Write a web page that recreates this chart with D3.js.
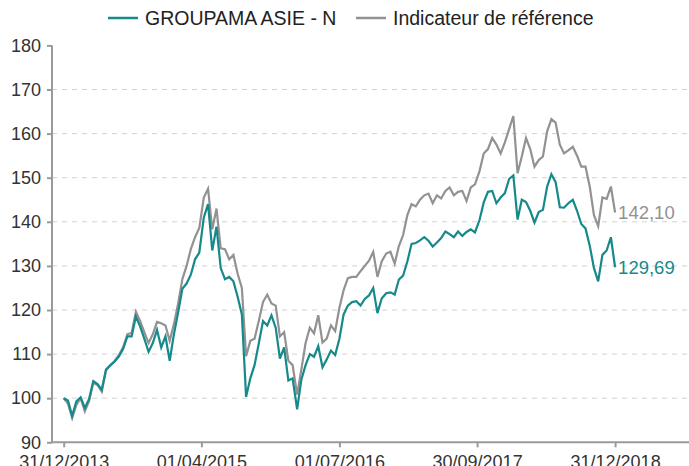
<!DOCTYPE html>
<html>
<head>
<meta charset="utf-8">
<script src="https://cdn.jsdelivr.net/npm/d3@7"></script>
<style>
  body { margin: 0; background: #fff; }
  svg text { font-family: "Liberation Sans", Arial, sans-serif; }
</style>
</head>
<body>
<div id="chart"></div>
<script>
// values, one point every ~2 weeks
const seriesNames = ["GROUPAMA ASIE - N", "Indicateur de référence"];
const fund = [
  100.0, 99.5, 96.0, 99.3, 100.2, 97.8, 99.8, 103.9, 103.2, 101.9,
  106.5, 107.5, 108.3, 109.5, 111.2, 114.0, 114.0, 118.5, 116.3, 113.5,
  110.5, 112.5, 115.5, 111.5, 114.0, 108.5, 114.5, 119.5, 124.8, 126.0,
  128.0, 131.5, 133.0, 141.0, 144.0, 133.5, 138.9, 129.5, 127.0, 127.5,
  126.5, 123.0, 119.0, 100.3, 104.5, 107.5, 112.4, 117.5, 116.5, 118.8,
  116.0, 109.0, 111.5, 104.0, 104.5, 97.5, 104.2, 107.5, 110.0, 109.4,
  111.8, 107.0, 108.8, 110.8, 109.8, 113.5, 119.0, 121.0, 121.8, 122.0,
  121.0, 122.5, 123.3, 125.0, 119.3, 122.6, 123.8, 124.0, 123.5, 126.9,
  127.8, 131.0, 135.0, 135.2, 135.8, 136.5, 135.7, 134.4, 135.3, 136.3,
  137.8, 137.2, 136.5, 137.8, 136.8, 137.7, 138.3, 137.6, 140.4, 144.4,
  146.8, 147.0, 144.2, 145.5, 146.5, 149.7, 150.5, 140.5, 145.0, 144.5,
  142.5, 139.8, 142.2, 142.7, 148.0, 150.8, 149.0, 143.3, 143.2, 144.2,
  145.0, 142.5, 139.5, 138.5, 134.6, 129.5, 126.5, 132.5, 133.5, 136.5,
  129.69
];
const benchmark = [
  100.0, 98.8, 95.5, 98.5, 100.0, 97.0, 99.3, 103.5, 103.0, 101.5,
  106.3, 107.5, 108.5, 109.8, 111.6, 114.5, 114.8, 119.6, 117.5, 115.0,
  112.5, 114.5, 117.3, 117.0, 116.5, 113.0, 116.8, 121.5, 127.0, 130.0,
  133.8, 136.5, 138.6, 145.5, 147.5, 138.3, 143.0, 134.0, 133.8, 131.5,
  132.5, 128.2, 125.0, 109.5, 113.0, 113.5, 117.5, 121.8, 123.5, 121.5,
  121.0, 114.0, 115.0, 108.5, 107.5, 100.8, 106.5, 112.5, 116.0, 114.7,
  118.8, 112.6, 113.5, 116.5, 115.2, 120.5, 124.5, 127.2, 127.5, 127.5,
  128.8, 130.0, 131.2, 133.2, 127.5, 131.0, 132.8, 133.2, 130.5, 134.5,
  137.0, 141.5, 144.0, 143.5, 145.0, 146.0, 146.4, 144.2, 146.0, 145.3,
  147.0, 147.8, 146.0, 146.8, 147.0, 144.7, 147.8, 148.5, 151.5, 155.5,
  156.5, 159.0, 157.5, 155.5, 158.0, 161.0, 164.0, 151.0, 154.8, 159.0,
  156.5, 152.5, 154.0, 154.8, 160.5, 163.3, 162.5, 157.5, 155.5, 156.2,
  157.0, 155.0, 152.5, 152.5, 148.0, 141.5, 139.0, 145.5, 145.2, 148.0,
  142.10
];
const yTicks = [90, 100, 110, 120, 130, 140, 150, 160, 170, 180];
const xTickDates = ["2013-12-31", "2015-04-01", "2016-07-01", "2017-09-30", "2018-12-31"];

const parse = d3.timeParse("%Y-%m-%d");
const start = parse("2013-12-31"), end = parse("2018-12-31");
const span = d3.timeDay.count(start, end);
const dates = fund.map((d, i) => d3.timeDay.offset(start, Math.round(i * span / (fund.length - 1))));

const W = 689, H = 466;
const teal = "#16898a", grey = "#929292";

const svg = d3.select("#chart").append("svg")
  .attr("width", W).attr("height", H);

const x = d3.scaleTime().domain([start, end]).range([63.7, 615.1]);
const y = d3.scaleLinear().domain([90, 180]).range([442.3, 45.4]);
const left = 52, right = W;

// dashed grid
svg.append("g").selectAll("line")
  .data(yTicks.filter(t => t > 90 && t < 180)).enter().append("line")
    .attr("x1", left).attr("x2", right)
    .attr("y1", d => y(d)).attr("y2", d => y(d))
    .attr("stroke", "#d2d2d2").attr("stroke-width", 1)
    .attr("stroke-dasharray", "5,5");

// y axis
const yAxis = svg.append("g")
  .attr("transform", `translate(${left},0)`)
  .call(d3.axisLeft(y).tickValues(yTicks).tickSize(5).tickPadding(6));
yAxis.select(".domain").remove();
yAxis.selectAll(".tick line").attr("stroke", "#9a9a9a").attr("stroke-width", 2);
yAxis.selectAll(".tick text").attr("font-size", 18).attr("fill", "#333")
  .attr("font-family", "Liberation Sans, Arial, sans-serif");

// x axis
const xAxis = svg.append("g")
  .attr("transform", `translate(0,${y(90)})`)
  .call(d3.axisBottom(x).tickValues(xTickDates.map(parse))
    .tickFormat(d3.timeFormat("%d/%m/%Y")).tickSize(5).tickPadding(8));
xAxis.select(".domain").remove();
xAxis.selectAll(".tick line").attr("stroke", "#9a9a9a").attr("stroke-width", 2);
xAxis.selectAll(".tick text").attr("font-size", 18).attr("fill", "#333")
  .attr("font-family", "Liberation Sans, Arial, sans-serif");

// axis lines
svg.append("line").attr("x1", left).attr("x2", left).attr("y1", y(180)).attr("y2", y(90))
  .attr("stroke", "#9a9a9a").attr("stroke-width", 2);
svg.append("line").attr("x1", left - 1).attr("x2", right).attr("y1", y(90)).attr("y2", y(90))
  .attr("stroke", "#9a9a9a").attr("stroke-width", 2);

// lines
const line = vals => d3.line()
  .x((d, i) => x(dates[i]))
  .y(d => y(d))(vals);

svg.append("path").attr("d", line(benchmark))
  .attr("fill", "none").attr("stroke", grey).attr("stroke-width", 2.2);
svg.append("path").attr("d", line(fund))
  .attr("fill", "none").attr("stroke", teal).attr("stroke-width", 2.2);

// end labels
svg.append("text").attr("x", x(end) + 3).attr("y", y(benchmark[benchmark.length - 1]) + 6.5)
  .attr("font-size", 18.5).attr("fill", grey)
  .text(d3.format(".2f")(benchmark[benchmark.length - 1]).replace(".", ","));
svg.append("text").attr("x", x(end) + 3).attr("y", y(fund[fund.length - 1]) + 6.5)
  .attr("font-size", 18.5).attr("fill", teal)
  .text(d3.format(".2f")(fund[fund.length - 1]).replace(".", ","));

// legend
const legend = svg.append("g");
const legendItems = [
  { name: seriesNames[0], color: teal, x: 108 },
  { name: seriesNames[1], color: grey, x: 356 }
];
legendItems.forEach(l => {
  legend.append("line").attr("x1", l.x).attr("x2", l.x + 30)
    .attr("y1", 18).attr("y2", 18)
    .attr("stroke", l.color).attr("stroke-width", 2.5);
  legend.append("text").attr("x", l.x + 37).attr("y", 25)
    .attr("font-size", 19.5).attr("fill", "#222").text(l.name);
});
</script>
</body>
</html>
